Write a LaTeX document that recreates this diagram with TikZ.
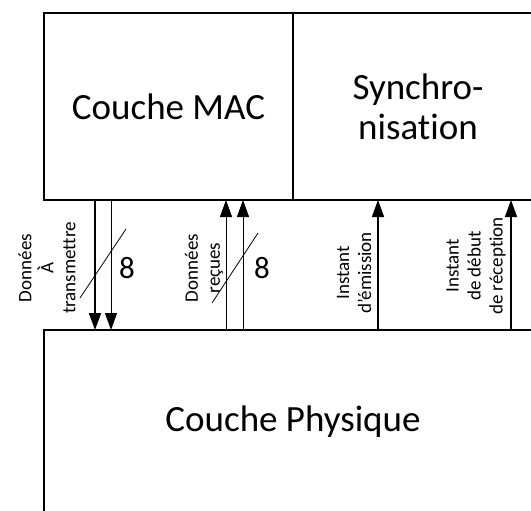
\documentclass[tikz,border=0pt]{standalone}
\usepackage{fontspec}
\setmainfont{Carlito}[Ligatures=NoCommon]
\usetikzlibrary{arrows.meta, positioning, calc}

\begin{document}
\begin{tikzpicture}[x=1pt, y=-1pt,
    couche/.style={draw, line width=2pt, inner sep=0pt, outer sep=0pt, font=\fontsize{37}{40}\selectfont, align=center},
    fleche/.style={-{Triangle[length=17pt, width=12pt]}},
    etiquette/.style={rotate=90, font=\fontsize{19}{22}\selectfont, align=center, inner sep=0pt},
    bus/.style={font=\fontsize{31}{31}\selectfont, inner sep=0pt}]
      \useasboundingbox (0,0) rectangle (531,511);
      \clip (0,0) rectangle (531,511);

      % Couches
      \node[couche, minimum width=249pt, minimum height=187pt] (mac) at (168.5,106.5) {Couche MAC};
      \node[couche, minimum width=250pt, minimum height=187pt, right=0pt of mac] (sync) {Synchro-\\nisation};
      \node[couche, minimum width=498pt, minimum height=184pt, anchor=north west] (phy) at (44,330) {Couche Physique};

      % Données à transmettre (bus de 8)
      \draw[fleche, line width=2pt] ($(mac.south west)+(51,0)$) -- ($(phy.north west)+(51,0)$);
      \draw[fleche, line width=1pt] ($(mac.south west)+(67,0)$) -- ($(phy.north west)+(67,0)$);
      \draw[line width=0.8pt] (80,298) -- (126,229);
      \node[bus] (huita) at (127,268) {8};
      \node[etiquette] (emis) at (47,268) {Données\\À\\transmettre};

      % Données reçues (bus de 8)
      \draw[fleche, line width=1pt] ($(phy.north west)+(182,0)$) -- ($(mac.south west)+(182,0)$);
      \draw[fleche, line width=1pt] ($(phy.north west)+(199,0)$) -- ($(mac.south west)+(199,0)$);
      \draw[line width=0.8pt] (212,303) -- (258,233);
      \node[bus] (huitb) at (262,268) {8};
      \node[etiquette] (recu) at (204,268) {Données\\reçues};

      % Signaux de synchronisation
      \draw[fleche, line width=1.5pt] ($(phy.north west)+(334,0)$) -- ($(sync.south west)+(85,0)$);
      \draw[fleche, line width=1.5pt] ($(phy.north west)+(467,0)$) -- ($(sync.south west)+(218,0)$);
      \node[etiquette] (instemis) at (354,273) {Instant\\d’émission};
      \node[etiquette] (instrecu) at (476,266) {Instant\\de début\\de réception};
    \end{tikzpicture}
\end{document}
